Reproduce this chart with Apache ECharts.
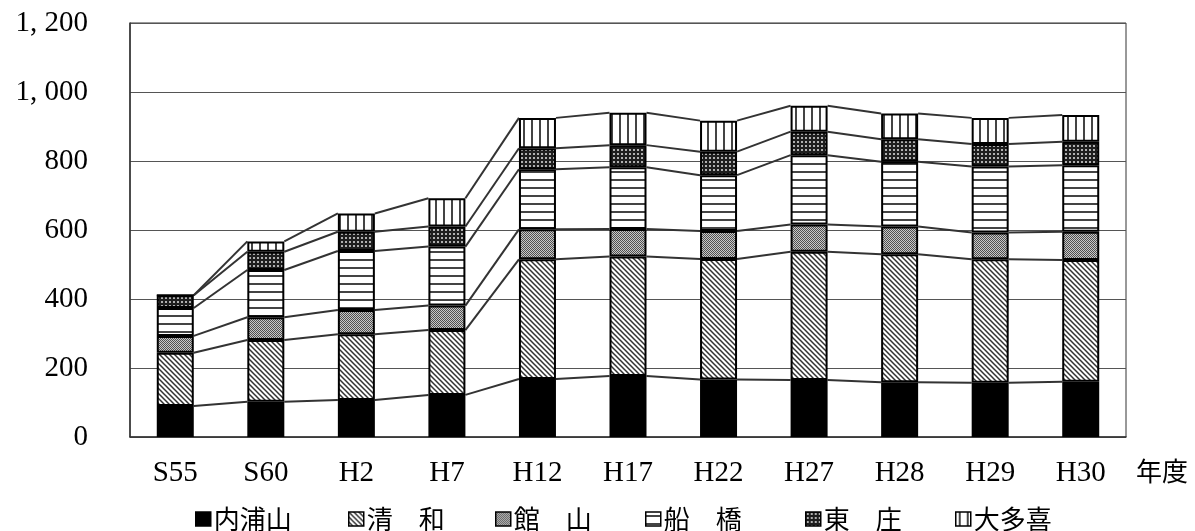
<!DOCTYPE html>
<html>
<head>
<meta charset="utf-8">
<script src="https://cdn.jsdelivr.net/npm/echarts@6/dist/echarts.min.js"></script>
<style>
  html, body { margin: 0; padding: 0; background: #fff; }
  #chart { width: 1195px; height: 531px; }
</style>
</head>
<body>
<div id="chart"></div>
<script>
// 年度別の内訳（積み上げ）
const categories = ['S55', 'S60', 'H2', 'H7', 'H12', 'H17', 'H22', 'H27', 'H28', 'H29', 'H30'];
const uchiurayama = [90, 102, 107, 122, 168, 177, 167, 165, 159, 157, 160];
const seiwa       = [154, 179, 191, 188, 347, 346, 349, 372, 371, 358, 353];
const tateyama    = [49, 66, 70, 71, 87, 80, 81, 79, 80, 78, 82];
const funabashi   = [81, 137, 171, 171, 174, 179, 162, 201, 188, 191, 193];
const tosho       = [37, 53, 56, 58, 61, 64, 68, 68, 65, 65, 68];
const otaki       = [0, 30, 53, 82, 88, 94, 90, 75, 75, 76, 77];

const seriesNames = ['内浦山', '清　和', '館　山', '船　橋', '東　庄', '大多喜'];
const yTickLabels = ['0', '200', '400', '600', '800', '1, 000', '1, 200'];
const unitLabel = '年度';

const layers = [uchiurayama, seiwa, tateyama, funabashi, tosho, otaki];

// Fill patterns drawn on small tiles
function tile(w, h, draw) {
  const c = document.createElement('canvas');
  c.width = w; c.height = h;
  const ctx = c.getContext('2d');
  draw(ctx, w, h);
  return { image: c, repeat: 'repeat' };
}
const patSolid = '#000';
const patDiagonal = tile(5, 5, (ctx, w, h) => {
  ctx.fillStyle = '#fff'; ctx.fillRect(0, 0, w, h);
  ctx.strokeStyle = '#333'; ctx.lineWidth = 1.5;
  ctx.beginPath();
  ctx.moveTo(-1, -1); ctx.lineTo(w + 1, h + 1);
  ctx.moveTo(-1, h - 1); ctx.lineTo(1, h + 1);
  ctx.moveTo(w - 1, -1); ctx.lineTo(w + 1, 1);
  ctx.stroke();
});
const patChecker = tile(2, 2, (ctx) => {
  ctx.fillStyle = '#c8c8c8'; ctx.fillRect(0, 0, 2, 2);
  ctx.fillStyle = '#505050'; ctx.fillRect(0, 0, 1, 1); ctx.fillRect(1, 1, 1, 1);
});
const patHorizontal = tile(8, 8, (ctx, w, h) => {
  ctx.fillStyle = '#fff'; ctx.fillRect(0, 0, w, h);
  ctx.fillStyle = '#444'; ctx.fillRect(0, 3, w, 2);
});
const patDots = tile(4, 4, (ctx, w, h) => {
  ctx.fillStyle = '#1e1e1e'; ctx.fillRect(0, 0, w, h);
  ctx.fillStyle = '#b0b0b0'; ctx.fillRect(1, 1, 2, 2);
});
const patVertical = tile(8, 8, (ctx, w, h) => {
  ctx.fillStyle = '#fff'; ctx.fillRect(0, 0, w, h);
  ctx.fillStyle = '#444'; ctx.fillRect(3, 0, 2, h);
});
const fills = [patSolid, patDiagonal, patChecker, patHorizontal, patDots, patVertical];

// cumulative tops of each layer per year
const cumulative = categories.map((_, i) => {
  let s = 0;
  return layers.map(arr => (s += arr[i]));
});

const BAR_W = 37;
const serifFont = '"Liberation Serif", "DejaVu Serif", serif';
const cjkFont = '"Noto Sans CJK JP", "Noto Sans", sans-serif';

const barSeries = layers.map((arr, k) => ({
  name: seriesNames[k],
  type: 'bar',
  stack: 'total',
  barWidth: BAR_W,
  data: arr,
  z: 3,
  itemStyle: { color: fills[k], borderColor: '#000', borderWidth: 2 },
  emphasis: { disabled: true }
}));

// series lines joining the tops of each layer between neighbouring bars
const connectorSeries = {
  type: 'custom',
  name: 'connectors',
  z: 2,
  silent: true,
  data: categories.map((_, i) => [i].concat(cumulative[i])),
  encode: { x: 0, y: [1, 2, 3, 4, 5, 6] },
  renderItem: function (params, api) {
    const i = api.value(0);
    if (i === 0) return null;
    const children = [];
    for (let k = 0; k < layers.length; k++) {
      const p0 = api.coord([i - 1, cumulative[i - 1][k]]);
      const p1 = api.coord([i, api.value(k + 1)]);
      children.push({
        type: 'line',
        shape: { x1: p0[0] + BAR_W / 2, y1: p0[1], x2: p1[0] - BAR_W / 2, y2: p1[1] },
        style: { stroke: '#333', lineWidth: 2 }
      });
    }
    return { type: 'group', children: children };
  }
};

// one legend block per item, laid out along the bottom
const legendLefts = [195, 348, 495, 645, 805, 955];
const legends = seriesNames.map((name, k) => ({
  data: [name],
  left: legendLefts[k],
  top: 506,
  padding: 0,
  itemWidth: 15,
  itemHeight: 14,
  itemGap: 0,
  icon: 'rect',
  selectedMode: false,
  itemStyle: { borderColor: '#000', borderWidth: 1.5 },
  textStyle: { fontFamily: cjkFont, fontSize: 26, color: '#000', padding: [0, 0, 0, -2] }
}));

const chart = echarts.init(document.getElementById('chart'), null, { renderer: 'canvas' });
chart.setOption({
  animation: false,
  backgroundColor: '#fff',
  grid: {
    left: 130, right: 69, top: 23, bottom: 94,
    show: true, borderColor: '#333', borderWidth: 1, backgroundColor: 'transparent'
  },
  legend: legends,
  xAxis: {
    type: 'category',
    data: categories,
    boundaryGap: true,
    axisLine: { lineStyle: { color: '#333', width: 1.5 } },
    axisTick: { inside: true, length: 8, lineStyle: { color: '#333', width: 1.5 } },
    axisLabel: { fontFamily: serifFont, fontSize: 29, color: '#000', margin: 22 },
    splitLine: { show: false }
  },
  yAxis: {
    type: 'value',
    min: 0, max: 1200, interval: 200,
    axisLine: { show: true, lineStyle: { color: '#333', width: 1.5 } },
    axisTick: { show: false },
    axisLabel: {
      fontFamily: serifFont, fontSize: 29, color: '#000', margin: 42,
      formatter: v => yTickLabels[Math.round(v / 200)]
    },
    splitLine: { lineStyle: { color: '#555', width: 1 } }
  },
  graphic: [{
    type: 'text',
    left: 1136,
    top: 458,
    style: { text: unitLabel, font: '26px ' + cjkFont, fill: '#000' }
  }],
  series: barSeries.concat([connectorSeries])
});
</script>
</body>
</html>
